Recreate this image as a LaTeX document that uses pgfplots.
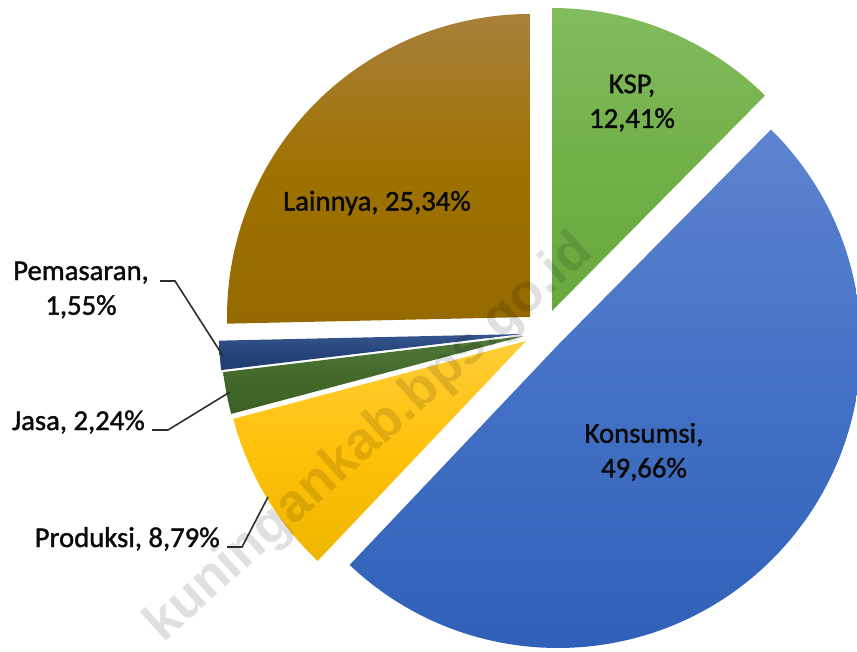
\documentclass[border=0pt]{standalone}
\usepackage{fontspec}
\setmainfont{Carlito}
\newfontfamily\labfont{Carlito}[FakeBold=1.4]
\newfontfamily\wmfont{Liberation Sans}
\usepackage{pgfplots}
\usepackage{pgfplotstable}
\pgfplotsset{compat=1.18}

\definecolor{kspT}{RGB}{130,188,94}
\definecolor{kspM}{RGB}{114,176,72}
\definecolor{kspB}{RGB}{104,168,62}
\definecolor{konT}{RGB}{92,132,208}
\definecolor{konM}{RGB}{66,112,196}
\definecolor{konB}{RGB}{46,94,182}
\definecolor{proT}{RGB}{255,205,55}
\definecolor{proM}{RGB}{255,193,10}
\definecolor{proB}{RGB}{238,182,0}
\definecolor{jasT}{RGB}{82,120,58}
\definecolor{jasM}{RGB}{67,105,43}
\definecolor{jasB}{RGB}{58,96,36}
\definecolor{pemT}{RGB}{52,86,142}
\definecolor{pemM}{RGB}{38,68,122}
\definecolor{pemB}{RGB}{32,60,112}
\definecolor{laiT}{RGB}{168,128,60}
\definecolor{laiM}{RGB}{158,114,0}
\definecolor{laiB}{RGB}{148,106,0}
\definecolor{leader}{RGB}{45,45,45}
\definecolor{labtxt}{RGB}{10,10,10}

% slices clockwise from 12 o'clock; cx, cy = apex of the (exploded) slice
\pgfplotstableread{
name       value cx  cy  ct   cm   cb
KSP        12.41 552 340 kspT kspM kspB
Konsumsi   49.66 558 306 konT konM konB
Produksi    8.79 526 310 proT proM proB
Jasa        2.24 524 315 jasT jasM jasB
Pemasaran   1.55 522 317 pemT pemM pemB
Lainnya    25.34 530 334 laiT laiM laiB
}\piedata

\newcommand\lab{\labfont\fontsize{21.5}{26}\selectfont}

\begin{document}
\begin{tikzpicture}
\begin{axis}[
  width=642.75pt, height=488.25pt, scale only axis,
  xmin=0, xmax=857, ymin=0, ymax=651,
  hide axis,
]
\path (axis cs:0,0) rectangle (axis cs:857,651);
\pgfplotstablegetrowsof{\piedata}
\pgfmathtruncatemacro\nrows{\pgfplotsretval-1}
\def\cum{0}
\pgfplotsforeachungrouped \i in {0,...,\nrows}{%
  \pgfplotstablegetelem{\i}{value}\of{\piedata}\let\val\pgfplotsretval
  \pgfplotstablegetelem{\i}{cx}\of{\piedata}\let\cx\pgfplotsretval
  \pgfplotstablegetelem{\i}{cy}\of{\piedata}\let\cy\pgfplotsretval
  \pgfplotstablegetelem{\i}{ct}\of{\piedata}\let\ct\pgfplotsretval
  \pgfplotstablegetelem{\i}{cm}\of{\piedata}\let\cm\pgfplotsretval
  \pgfplotstablegetelem{\i}{cb}\of{\piedata}\let\cb\pgfplotsretval
  \pgfmathsetmacro\aa{90-3.6*\cum}%
  \pgfmathsetmacro\ab{90-3.6*(\cum+\val)}%
  \pgfmathsetmacro\cum{\cum+\val}%
  \edef\temp{\noexpand\path[top color=\ct, bottom color=\cb, middle color=\cm]
    (axis cs:\cx,\cy) -- ++(\aa:227.25pt) arc[start angle=\aa, end angle=\ab, radius=227.25pt] -- cycle;}%
  \temp
}

% watermark
\node[rotate=42, text=black, text opacity=0.12, font=\wmfont\bfseries\fontsize{40}{48}\selectfont]
  at (axis cs:370,212) {kuningankab.bps.go.id};

% leader lines
\addplot[leader, line width=1.2pt, no marks] coordinates {(160,370) (175,370) (223,295)};
\addplot[leader, line width=1.2pt, no marks] coordinates {(152,221) (168,221) (230,259)};
\addplot[leader, line width=1.2pt, no marks] coordinates {(227,104) (242,104) (268,154)};

% labels
\node[font=\lab, text=labtxt, align=center] at (axis cs:632,548) {KSP,\\12,41\%};
\node[font=\lab, text=labtxt, align=center] at (axis cs:377,448) {Lainnya, 25,34\%};
\node[font=\lab, text=labtxt, align=center] at (axis cs:644,199) {Konsumsi,\\49,66\%};
\node[font=\lab, text=labtxt, align=center] at (axis cs:81,361) {Pemasaran,\\1,55\%};
\node[font=\lab, text=labtxt, anchor=base east, inner xsep=0pt] at (axis cs:145,221) {Jasa, 2,24\%};
\node[font=\lab, text=labtxt, anchor=base east, inner xsep=0pt] at (axis cs:220,104) {Produksi, 8,79\%};
\end{axis}
\end{tikzpicture}
\end{document}
